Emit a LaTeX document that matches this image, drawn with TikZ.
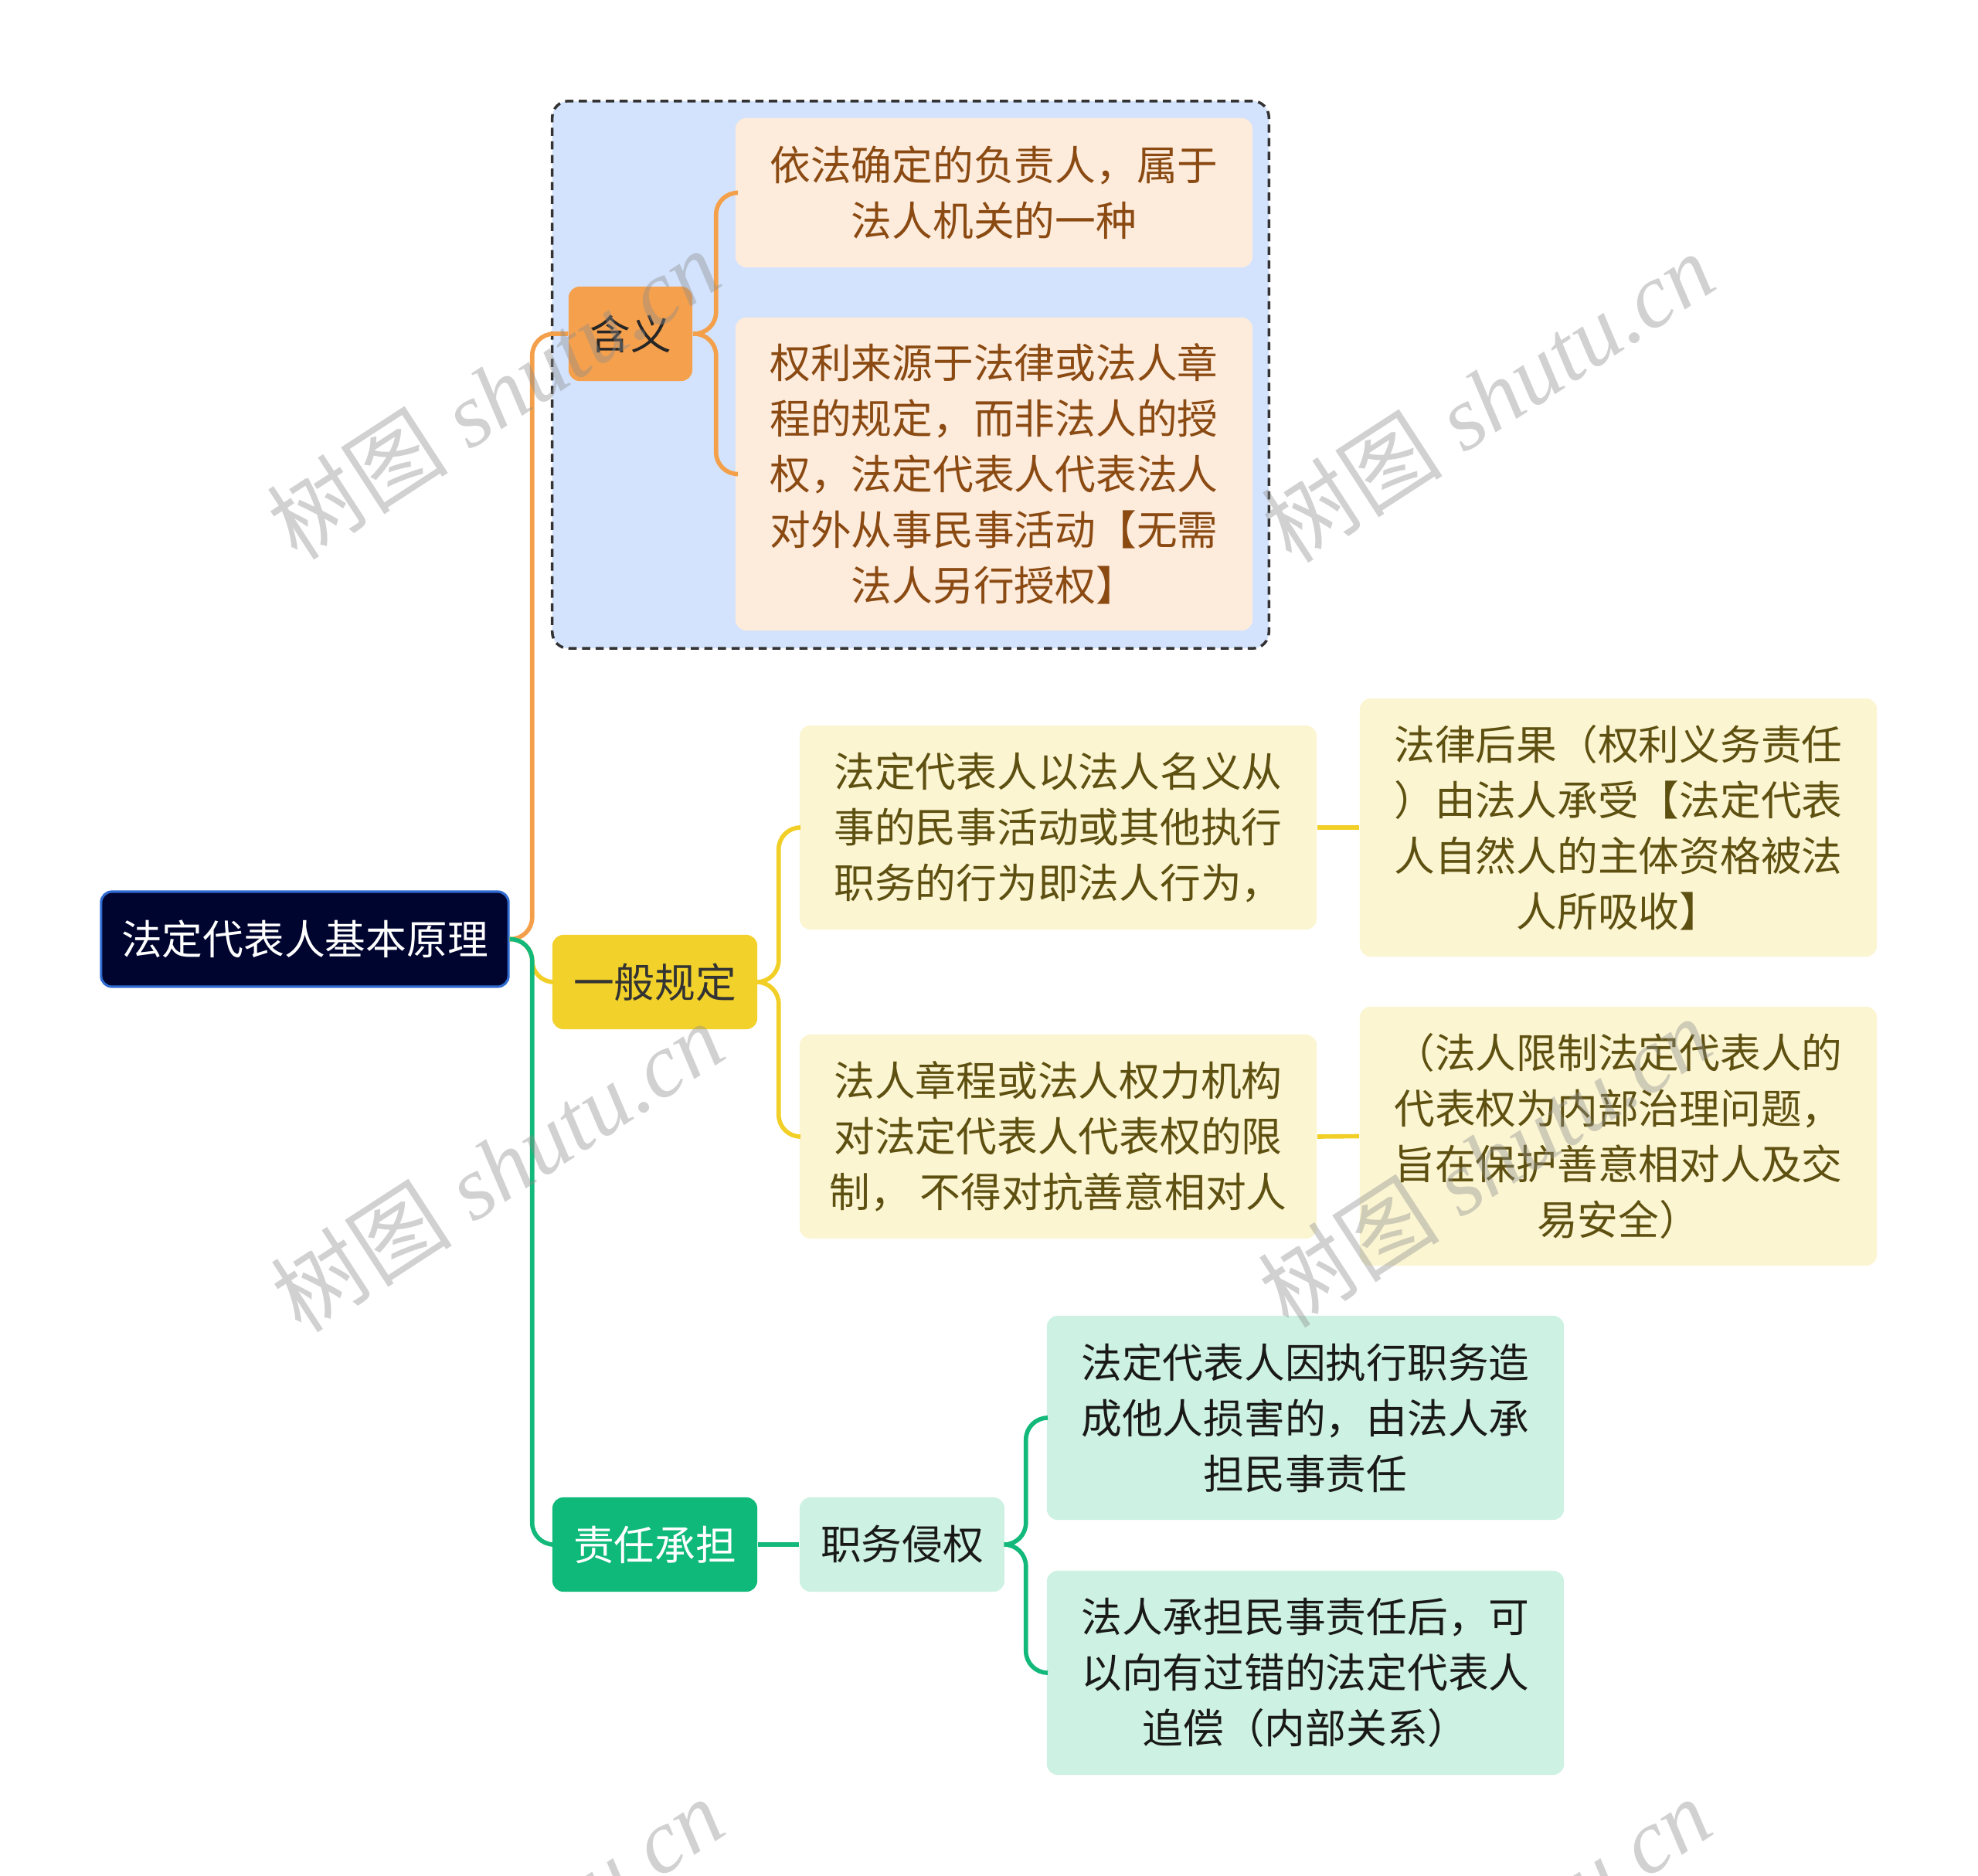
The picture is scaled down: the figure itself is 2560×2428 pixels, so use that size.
\documentclass[tikz,border=0pt]{standalone}
\usepackage{fontspec}
\setmainfont{Noto Sans CJK SC}
\newfontfamily\wmserif{Liberation Serif}
\usepackage{xcolor}

\definecolor{rootfill}{HTML}{000530}
\definecolor{rootline}{HTML}{2F6BD0}
\definecolor{orangefill}{HTML}{F5A04C}
\definecolor{peachfill}{HTML}{FDEBDC}
\definecolor{peachtext}{HTML}{8A4A12}
\definecolor{groupfill}{HTML}{D3E3FD}
\definecolor{yellowfill}{HTML}{F1D12A}
\definecolor{creamfill}{HTML}{FBF5D2}
\definecolor{creamtext}{HTML}{5E5010}
\definecolor{greenfill}{HTML}{0FB97A}
\definecolor{mintfill}{HTML}{CDF1E2}
\definecolor{orangeline}{HTML}{F4A04A}
\definecolor{yellowline}{HTML}{F2CF26}
\definecolor{greenline}{HTML}{12B97A}

\tikzset{
  mapnode/.style={font=\fontsize{15}{20.5}\selectfont, align=center, inner sep=0pt, rounded corners=4pt},
  rootnode/.style={mapnode, fill=rootfill, draw=rootline, line width=0.9pt, text=white},
  hanyinode/.style={mapnode, fill=orangefill, text=black!85},
  peachleaf/.style={mapnode, fill=peachfill, text=peachtext, minimum width=6.69cm},
  yellownode/.style={mapnode, fill=yellowfill, text=black!80, minimum width=2.65cm, minimum height=1.22cm},
  creamleaf/.style={mapnode, fill=creamfill, text=creamtext, minimum width=6.69cm},
  greennode/.style={mapnode, fill=greenfill, text=white, minimum width=2.65cm, minimum height=1.22cm},
  mintnode/.style={mapnode, fill=mintfill, text=black!90},
  groupbox/.style={fill=groupfill, draw=black!80, line width=1pt, dash pattern=on 3pt off 2pt, rounded corners=6pt},
  oline/.style={draw=orangeline, line width=1.6pt, rounded corners=8pt},
  yline/.style={draw=yellowline, line width=1.6pt, rounded corners=8pt},
  gline/.style={draw=greenline, line width=1.6pt, rounded corners=8pt},
  wmark/.style={rotate=33, text=black!45, opacity=0.4, font=\fontsize{33.5}{38}\selectfont, inner sep=0pt}
}

\begin{document}
\begin{tikzpicture}[x=0.01cm,y=-0.01cm]
\useasboundingbox (0,0) rectangle (2560,2428);
\clip (0,0) rectangle (2560,2428);

% group behind the first branch
\node[groupbox, minimum width=9.27cm, minimum height=7.08cm] (hygroup) at (1178.5,485) {};

% nodes
\node[rootnode, minimum width=5.27cm, minimum height=1.23cm] (root) at (394.5,1215.5) {法定代表人基本原理};

\node[hanyinode, minimum width=1.6cm, minimum height=1.22cm] (hanyi) at (816,432) {含义};
\node[peachleaf, minimum height=1.93cm] (hy1) at (1286.5,249.5) {依法确定的负责人，属于\\法人机关的一种};
\node[peachleaf, minimum height=4.05cm] (hy2) at (1286.5,613.5) {权利来源于法律或法人章\\程的规定，而非法人的授\\权，法定代表人代表法人\\对外从事民事活动【无需\\法人另行授权】};

\node[yellownode] (gen) at (847.5,1271) {一般规定};
\node[creamleaf, minimum height=2.64cm] (gen1) at (1369.5,1071) {法定代表人以法人名义从\\事的民事活动或其他执行\\职务的行为即法人行为，};
\node[creamleaf, minimum height=3.34cm] (gen1r) at (2094.5,1071) {法律后果（权利义务责任\\）由法人承受【法定代表\\人自然人的主体资格被法\\人所吸收】};
\node[creamleaf, minimum height=2.64cm] (gen2) at (1369.5,1471) {法人章程或法人权力机构\\对法定代表人代表权的限\\制， 不得对抗善意相对人};
\node[creamleaf, minimum height=3.35cm] (gen2r) at (2094.5,1470.5) {（法人限制法定代表人的\\代表权为内部治理问题，\\旨在保护善意相对人及交\\易安全）};

\node[greennode] (zeren) at (847.5,1999) {责任承担};
\node[mintnode, minimum width=2.65cm, minimum height=1.22cm] (zhiwu) at (1167.5,1999) {职务侵权};
\node[mintnode, minimum width=6.69cm, minimum height=2.64cm] (zw1) at (1689.5,1835) {法定代表人因执行职务造\\成他人损害的，由法人承\\担民事责任};
\node[mintnode, minimum width=6.69cm, minimum height=2.64cm] (zw2) at (1689.5,2165) {法人承担民事责任后，可\\以向有过错的法定代表人\\追偿（内部关系）};

% connectors
\draw[oline] (root.east) -- ++(29,0) |- (hanyi.west);
\draw[yline] (root.east) -- ++(29,0) |- (gen.west);
\draw[gline] (root.east) -- ++(29,0) |- (zeren.west);

\draw[oline] (hanyi.east) -- ++(30,0) |- (hy1.west);
\draw[oline] (hanyi.east) -- ++(30,0) |- (hy2.west);

\draw[yline] (gen.east) -- ++(27,0) |- (gen1.west);
\draw[yline] (gen.east) -- ++(27,0) |- (gen2.west);
\draw[yline] (gen1.east) -- (gen1r.west);
\draw[yline] (gen2.east) -- (gen2r.west);

\draw[gline] (zeren.east) -- (zhiwu.west);
\draw[gline] (zhiwu.east) -- ++(27,0) |- (zw1.west);
\draw[gline] (zhiwu.east) -- ++(27,0) |- (zw2.west);

% watermarks
\node[wmark] (wm1) at (638,510) {树图\wmserif\itshape{} shutu.cn};
\node[wmark] (wm2) at (1925,514) {树图\wmserif\itshape{} shutu.cn};
\node[wmark] (wm3) at (643,1510) {树图\wmserif\itshape{} shutu.cn};
\node[wmark] (wm4) at (1921,1504) {树图\wmserif\itshape{} shutu.cn};
\node[wmark] (wm5) at (643,2514) {树图\wmserif\itshape{} shutu.cn};
\node[wmark] (wm6) at (1921,2514) {树图\wmserif\itshape{} shutu.cn};
\end{tikzpicture}
\end{document}
